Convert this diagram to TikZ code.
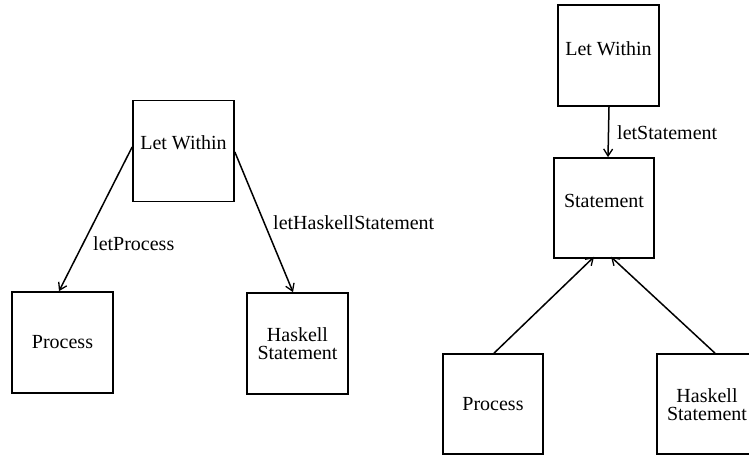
\documentclass[tikz,border=0pt]{standalone}
\usepackage{fontspec}
\setmainfont{Liberation Serif}
\usetikzlibrary{arrows.meta}
\begin{document}
\begin{tikzpicture}[x=1pt,y=-1pt,
  every node/.style={font=\fontsize{20}{18}\selectfont, inner sep=0pt},
  entity/.style={draw, line width=1.7pt, rectangle, minimum width=101pt, minimum height=101pt},
  link/.style={line width=1.5pt, -{Straight Barb[length=7pt,width=9pt,line width=1.3pt]}},
  rolename/.style={anchor=west}]
\useasboundingbox (0,0) rectangle (749,455);
\clip (0,0) rectangle (749,455);

% left: a let-within block pointing at its parts
\node[entity] (lwA) at (183.5,151) {};
\node at (183.5,143) {Let Within};
\node[entity] (procA) at (62.5,342.5) {Process};
\node[entity, align=center] (hsA) at (297.5,343.5) {Haskell\\Statement};

\draw[link] ([yshift=4]lwA.west) -- ([xshift=-3.5]procA.north);
\draw[link] ([yshift=-1]lwA.east) -- ([xshift=-4.5]hsA.north);
\node[rolename] (lpA) at (93,244) {letProcess};
\node[rolename] (lhA) at (273,223) {letHaskellStatement};

% right: statement generalisation
\node[entity] (lwB) at (608.5,55.5) {};
\node at (608.5,49) {Let Within};
\node[entity, minimum width=100pt, minimum height=100pt] (stB) at (604,208) {};
\node at (604,201) {Statement};
\node[entity, minimum width=100pt, minimum height=100pt] (procB) at (493,404) {Process};
\node[entity, minimum width=100pt, minimum height=100pt] (hsB) at (707,404) {};
\node[align=center] at (707,404.5) {Haskell\\Statement};

\draw[link] ([xshift=0.5]lwB.south) -- ([xshift=4]stB.north);
\node[rolename] (lsB) at (617,133) {letStatement};
\draw[link] ([xshift=1]procB.north) -- ([xshift=-10,yshift=2]stB.south);
\draw[link] ([xshift=8]hsB.north) -- ([xshift=7,yshift=2]stB.south);
\end{tikzpicture}
\end{document}
